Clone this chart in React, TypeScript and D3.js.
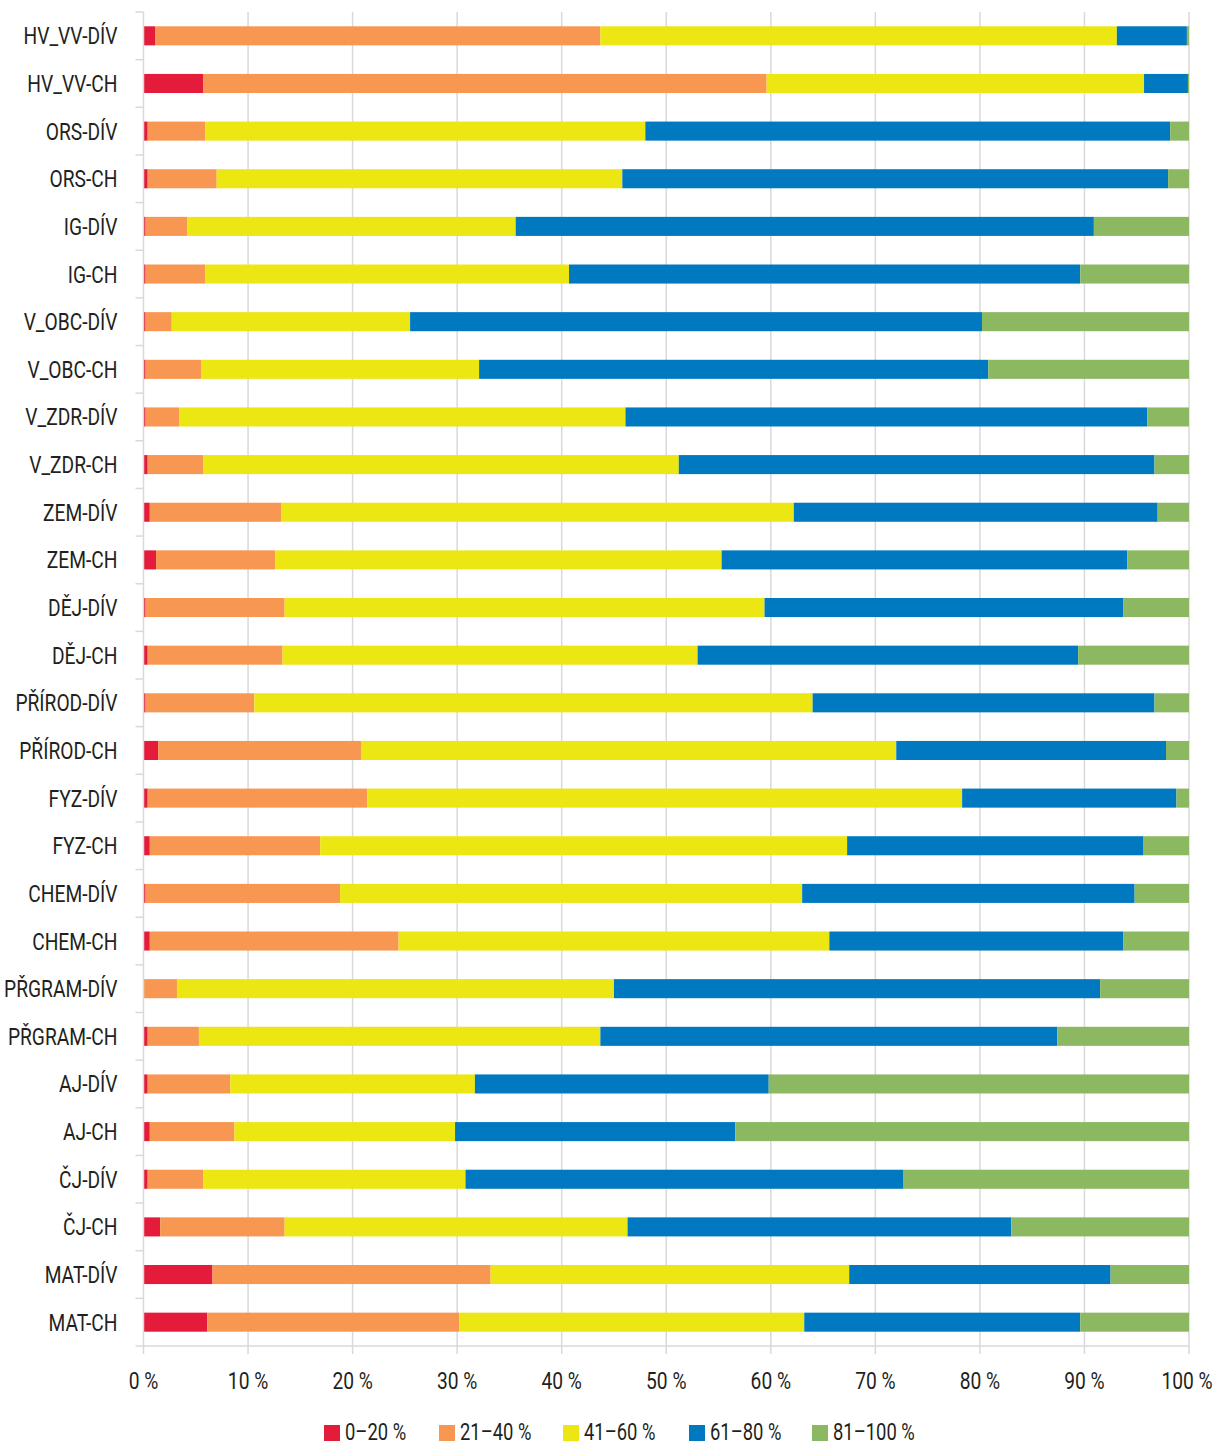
import React, { useEffect, useRef } from 'react';
import * as d3 from 'd3';

const categories = [
  'HV_VV-DÍV', 'HV_VV-CH', 'ORS-DÍV', 'ORS-CH', 'IG-DÍV', 'IG-CH', 'V_OBC-DÍV', 'V_OBC-CH',
  'V_ZDR-DÍV', 'V_ZDR-CH', 'ZEM-DÍV', 'ZEM-CH', 'DĚJ-DÍV', 'DĚJ-CH', 'PŘÍROD-DÍV', 'PŘÍROD-CH',
  'FYZ-DÍV', 'FYZ-CH', 'CHEM-DÍV', 'CHEM-CH', 'PŘGRAM-DÍV', 'PŘGRAM-CH', 'AJ-DÍV', 'AJ-CH',
  'ČJ-DÍV', 'ČJ-CH', 'MAT-DÍV', 'MAT-CH',
];

const seriesNames = ['0–20 %', '21–40 %', '41–60 %', '61–80 %', '81–100 %'];
const seriesColors = ['#e41b3b', '#f79751', '#ece613', '#0079c1', '#8cb862'];

// share of pupils per band, in %
const band0to20 = [1.1, 5.7, 0.4, 0.4, 0.2, 0.2, 0.2, 0.2, 0.2, 0.4, 0.6, 1.2, 0.2, 0.4, 0.2, 1.4, 0.4, 0.6, 0.2, 0.6, 0.0, 0.4, 0.4, 0.6, 0.4, 1.6, 6.6, 6.1];
const band21to40 = [42.6, 53.9, 5.5, 6.6, 4.0, 5.7, 2.5, 5.3, 3.2, 5.3, 12.6, 11.4, 13.3, 12.9, 10.4, 19.4, 21.0, 16.3, 18.6, 23.8, 3.2, 4.9, 7.9, 8.1, 5.3, 11.9, 26.6, 24.1];
const band41to60 = [49.4, 36.1, 42.1, 38.8, 31.4, 34.8, 22.8, 26.6, 42.7, 45.5, 49.0, 42.7, 45.9, 39.7, 53.4, 51.2, 56.9, 50.4, 44.2, 41.2, 41.8, 38.4, 23.4, 21.1, 25.1, 32.8, 34.3, 33.0];
const band61to80 = [6.7, 4.2, 50.2, 52.2, 55.3, 48.9, 54.7, 48.7, 49.9, 45.5, 34.8, 38.8, 34.3, 36.4, 32.7, 25.8, 20.5, 28.3, 31.8, 28.1, 46.5, 43.7, 28.1, 26.8, 41.9, 36.7, 25.0, 26.4];
const band81to100 = [0.2, 0.1, 1.8, 2.0, 9.1, 10.4, 19.8, 19.2, 4.0, 3.3, 3.0, 5.9, 6.3, 10.6, 3.3, 2.2, 1.2, 4.4, 5.2, 6.3, 8.5, 12.6, 40.2, 43.4, 27.3, 17.0, 7.5, 10.4];

const xTicks = [0, 10, 20, 30, 40, 50, 60, 70, 80, 90, 100];

const App = () => {
  const svgRef = useRef(null);
  const W = 1213;
  const H = 1447;

  useEffect(() => {
    const margin = { top: 12, right: 24, bottom: 101, left: 143.5 };
    const width = W - margin.left - margin.right;
    const height = H - margin.top - margin.bottom;
    const font = "Roboto, 'DejaVu Sans', sans-serif";
    const sx = 0.8; // squeeze text to look like the condensed face of the original

    const svgEl = d3.select(svgRef.current);
    svgEl.selectAll('*').remove();

    const svg = svgEl.append('g').attr('transform', `translate(${margin.left},${margin.top})`);

    const rows = categories.map((c, i) => ({
      cat: c,
      s0: band0to20[i],
      s1: band21to40[i],
      s2: band41to60[i],
      s3: band61to80[i],
      s4: band81to100[i],
    }));
    const keys = ['s0', 's1', 's2', 's3', 's4'];
    const stacked = d3.stack().keys(keys)(rows);

    const x = d3.scaleLinear().domain([0, 100]).range([0, width]);
    const y = d3.scaleBand().domain(categories).range([0, height]).paddingInner(0.6).paddingOuter(0.3);

    // vertical gridlines
    svg.append('g')
      .selectAll('line')
      .data(xTicks.slice(1))
      .join('line')
      .attr('x1', d => x(d))
      .attr('x2', d => x(d))
      .attr('y1', 0)
      .attr('y2', height)
      .attr('stroke', '#d9d9d9')
      .attr('stroke-width', 1.5);

    // bars
    stacked.forEach((layer, li) => {
      svg.append('g')
        .attr('fill', seriesColors[li])
        .selectAll('rect')
        .data(layer)
        .join('rect')
        .attr('x', d => x(d[0]))
        .attr('width', d => Math.max(0, x(d[1]) - x(d[0])))
        .attr('y', d => y(d.data.cat))
        .attr('height', y.bandwidth());
    });

    // left axis
    const step = y.step();
    const bounds = d3.range(categories.length + 1).map(i => i * step);
    const yAxisG = svg.append('g');
    yAxisG.append('line')
      .attr('x1', 0).attr('x2', 0).attr('y1', 0).attr('y2', height)
      .attr('stroke', '#d9d9d9').attr('stroke-width', 1.5);
    yAxisG.selectAll('line.tk')
      .data(bounds)
      .join('line')
      .attr('class', 'tk')
      .attr('x1', -8).attr('x2', 0)
      .attr('y1', d => d).attr('y2', d => d)
      .attr('stroke', '#d9d9d9').attr('stroke-width', 1.5);
    yAxisG.selectAll('text')
      .data(categories)
      .join('text')
      .attr('transform', d => `translate(-26,${y(d) + y.bandwidth() / 2 + 8.5}) scale(${sx},1)`)
      .attr('text-anchor', 'end')
      .attr('fill', '#231f20')
      .style('font-family', font)
      .style('font-size', '24px')
      .text(d => d);

    // bottom axis
    const xAxisG = svg.append('g').attr('transform', `translate(0,${height})`);
    xAxisG.append('line')
      .attr('x1', 0).attr('x2', width)
      .attr('stroke', '#d9d9d9').attr('stroke-width', 1.5);
    xAxisG.selectAll('line.tk')
      .data(xTicks)
      .join('line')
      .attr('class', 'tk')
      .attr('x1', d => x(d)).attr('x2', d => x(d))
      .attr('y1', 0).attr('y2', 8)
      .attr('stroke', '#d9d9d9').attr('stroke-width', 1.5);
    xAxisG.selectAll('text')
      .data(xTicks)
      .join('text')
      .attr('transform', d => `translate(${d === 100 ? x(d) - 2 : x(d)},43) scale(${sx},1)`)
      .attr('text-anchor', 'middle')
      .attr('fill', '#231f20')
      .style('font-family', font)
      .style('font-size', '24px')
      .text(d => `${d} %`);

    // legend
    const legendX = [324, 439, 563, 689, 812];
    const legend = svgEl.append('g');
    seriesNames.forEach((name, i) => {
      const g = legend.append('g').attr('transform', `translate(${legendX[i]},0)`);
      g.append('rect')
        .attr('x', 0).attr('y', 1425)
        .attr('width', 16).attr('height', 16)
        .attr('fill', seriesColors[i]);
      g.append('text')
        .attr('transform', `translate(21,1440) scale(${sx},1)`)
        .attr('fill', '#231f20')
        .style('font-family', font)
        .style('font-size', '23px')
        .text(name);
    });
  }, []);

  return (
    <div style={{ position: 'absolute', left: 0, top: 0 }}>
      <svg ref={svgRef} width={W} height={H} style={{ display: 'block', background: '#fff' }}></svg>
    </div>
  );
};

export default App;
